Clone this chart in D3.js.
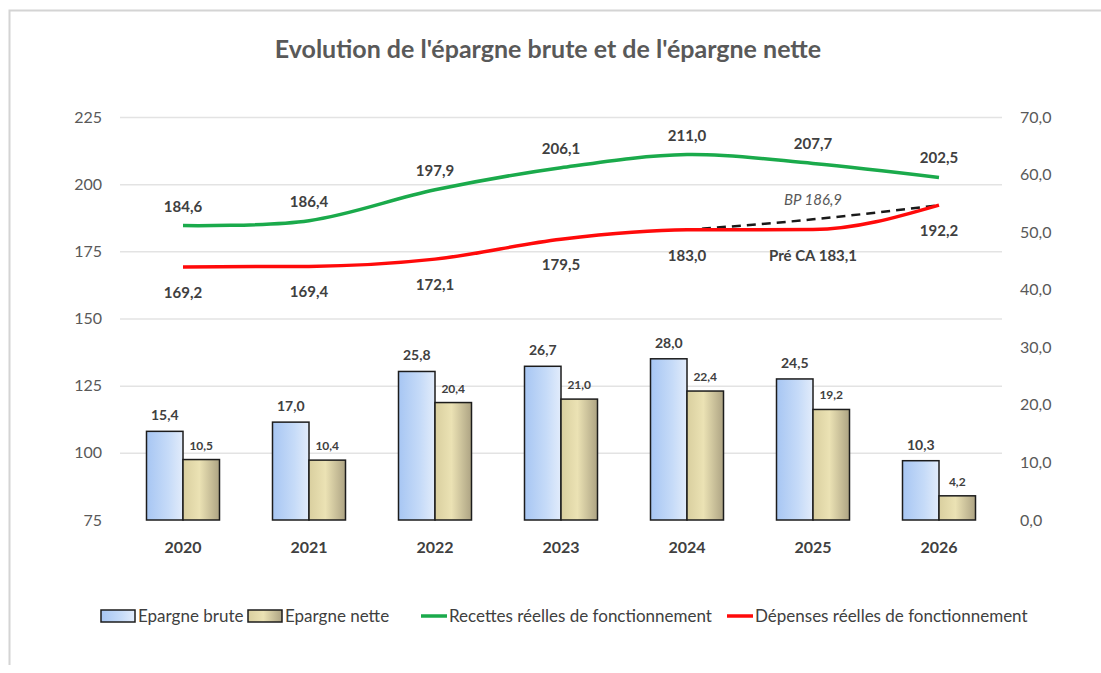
<!DOCTYPE html>
<html>
<head>
<meta charset="utf-8">
<script src="https://cdn.jsdelivr.net/npm/d3@7"></script>
<style>
  body { margin: 0; background: #fff; }
  text { font-family: Lato, "Liberation Sans", sans-serif; }
</style>
</head>
<body>
<div id="chart"></div>
<script>
const years = ["2020", "2021", "2022", "2023", "2024", "2025", "2026"];
const epargneBrute = [15.4, 17.0, 25.8, 26.7, 28.0, 24.5, 10.3];
const epargneNette = [10.5, 10.4, 20.4, 21.0, 22.4, 19.2, 4.2];
const recettes = [184.6, 186.4, 197.9, 206.1, 211.0, 207.7, 202.5];
const depenses = [169.2, 169.4, 172.1, 179.5, 183.0, 183.1, 192.2];
const bpYears = ["2024", "2025", "2026"];
const bpValues = [183.0, 186.9, 192.2];
const leftTicks = [75, 100, 125, 150, 175, 200, 225];
const rightTicks = [0, 10, 20, 30, 40, 50, 60, 70];

const fmt = (v) => v.toFixed(1).replace(".", ",");

const width = 1101;
const height = 673;
const margin = { top: 117, right: 99, bottom: 153, left: 120 };

const svg = d3
  .select("#chart")
  .append("svg")
  .attr("width", width)
  .attr("height", height);

// outer frame
svg
  .append("path")
  .attr("d", `M1101,10.5 H9.5 V665`)
  .attr("fill", "none")
  .attr("stroke", "#d4d4d4")
  .attr("stroke-width", 2);

const defs = svg.append("defs");
const gBlue = defs.append("linearGradient").attr("id", "gBlue");
gBlue.append("stop").attr("offset", "0%").attr("stop-color", "#a7c6f3");
gBlue.append("stop").attr("offset", "60%").attr("stop-color", "#c6dbf8");
gBlue.append("stop").attr("offset", "100%").attr("stop-color", "#e2ecfb");
const gTan = defs.append("linearGradient").attr("id", "gTan");
gTan.append("stop").attr("offset", "0%").attr("stop-color", "#d9cf9f");
gTan.append("stop").attr("offset", "45%").attr("stop-color", "#ebe2b4");
gTan.append("stop").attr("offset", "100%").attr("stop-color", "#ada383");

const x = d3
  .scaleBand()
  .domain(years)
  .range([margin.left, width - margin.right])
  .padding(0);

const yLeft = d3
  .scaleLinear()
  .domain([75, 225])
  .range([height - margin.bottom, margin.top]);

const yRight = d3
  .scaleLinear()
  .domain([0, 70])
  .range([height - margin.bottom, margin.top]);

// Title
svg
  .append("text")
  .attr("x", 548)
  .attr("y", 58)
  .attr("text-anchor", "middle")
  .style("font-size", "25px")
  .style("font-weight", "bold")
  .style("fill", "#595959")
  .text("Evolution de l'épargne brute et de l'épargne nette");

// gridlines
svg
  .append("g")
  .selectAll("line")
  .data(leftTicks.slice(1))
  .enter()
  .append("line")
  .attr("x1", margin.left)
  .attr("x2", width - margin.right)
  .attr("y1", (d) => yLeft(d) + 0.5)
  .attr("y2", (d) => yLeft(d) + 0.5)
  .attr("stroke", "#e3e3e3")
  .attr("stroke-width", 1.5);

// left axis
const leftAxis = svg
  .append("g")
  .attr("transform", `translate(${margin.left - 18},0)`)
  .call(d3.axisLeft(yLeft).tickValues(leftTicks).tickSize(0).tickPadding(0));
leftAxis.select(".domain").remove();
leftAxis
  .selectAll("text")
  .style("font-size", "16px")
  .style("fill", "#595959")
  .style("font-family", "Lato, sans-serif");

// right axis
const rightAxis = svg
  .append("g")
  .attr("transform", `translate(${width - margin.right + 18},0)`)
  .call(
    d3
      .axisRight(yRight)
      .tickValues(rightTicks)
      .tickSize(0)
      .tickPadding(0)
      .tickFormat(fmt)
  );
rightAxis.select(".domain").remove();
rightAxis
  .selectAll("text")
  .style("font-size", "16px")
  .style("fill", "#595959")
  .style("font-family", "Lato, sans-serif");

// x labels
const xAxis = svg
  .append("g")
  .attr("transform", `translate(0,${height - margin.bottom + 19})`)
  .call(d3.axisBottom(x).tickSize(0).tickPadding(0));
xAxis.select(".domain").remove();
xAxis
  .selectAll("text")
  .attr("dy", "0.9em")
  .style("font-size", "16px")
  .style("font-weight", "bold")
  .style("fill", "#404040")
  .style("font-family", "Lato, sans-serif");

// bars
const barW = 36.5;
const base = yRight(0);

svg
  .append("g")
  .selectAll("rect")
  .data(epargneBrute)
  .enter()
  .append("rect")
  .attr("x", (d, i) => x(years[i]) + x.bandwidth() / 2 - barW)
  .attr("y", (d) => yRight(d))
  .attr("width", barW)
  .attr("height", (d) => base - yRight(d))
  .attr("fill", "url(#gBlue)")
  .attr("stroke", "#1c1c1c")
  .attr("stroke-width", 1.5);

svg
  .append("g")
  .selectAll("rect")
  .data(epargneNette)
  .enter()
  .append("rect")
  .attr("x", (d, i) => x(years[i]) + x.bandwidth() / 2)
  .attr("y", (d) => yRight(d))
  .attr("width", barW)
  .attr("height", (d) => base - yRight(d))
  .attr("fill", "url(#gTan)")
  .attr("stroke", "#1c1c1c")
  .attr("stroke-width", 1.5);

// bar labels
svg
  .append("g")
  .selectAll("text")
  .data(epargneBrute)
  .enter()
  .append("text")
  .attr("x", (d, i) => x(years[i]) + x.bandwidth() / 2 - barW / 2)
  .attr("y", (d) => yRight(d) - 11)
  .attr("text-anchor", "middle")
  .style("font-size", "14px")
  .style("font-weight", "bold")
  .style("fill", "#404040")
  .text(fmt);

svg
  .append("g")
  .selectAll("text")
  .data(epargneNette)
  .enter()
  .append("text")
  .attr("x", (d, i) => x(years[i]) + x.bandwidth() / 2 + barW / 2)
  .attr("y", (d) => yRight(d) - 10)
  .attr("text-anchor", "middle")
  .style("font-size", "12px")
  .style("font-weight", "bold")
  .style("fill", "#404040")
  .text(fmt);

// lines
const cx = (yr) => x(yr) + x.bandwidth() / 2;

const greenLine = d3
  .line()
  .x((d, i) => cx(years[i]))
  .y((d) => yLeft(d))
  .curve(d3.curveCatmullRom.alpha(0.5));

const redLine = d3
  .line()
  .x((d, i) => cx(years[i]))
  .y((d) => yLeft(d))
  .curve(d3.curveMonotoneX);

svg
  .append("path")
  .datum(bpValues)
  .attr(
    "d",
    d3
      .line()
      .x((d, i) => cx(bpYears[i]))
      .y((d) => yLeft(d))
      .curve(d3.curveMonotoneX)
  )
  .attr("fill", "none")
  .attr("stroke", "#1a1a1a")
  .attr("stroke-width", 2.5)
  .attr("stroke-dasharray", "9,6");

svg
  .append("path")
  .datum(recettes)
  .attr("d", greenLine)
  .attr("fill", "none")
  .attr("stroke", "#1aaa4b")
  .attr("stroke-width", 3.5);

svg
  .append("path")
  .datum(depenses)
  .attr("d", redLine)
  .attr("fill", "none")
  .attr("stroke", "#ff0a0a")
  .attr("stroke-width", 3.5);

// line labels
svg
  .append("g")
  .selectAll("text")
  .data(recettes)
  .enter()
  .append("text")
  .attr("x", (d, i) => cx(years[i]))
  .attr("y", (d) => yLeft(d) - 14)
  .attr("text-anchor", "middle")
  .style("font-size", "15px")
  .style("font-weight", "bold")
  .style("fill", "#404040")
  .text(fmt);

svg
  .append("g")
  .selectAll("text")
  .data(depenses)
  .enter()
  .append("text")
  .attr("x", (d, i) => cx(years[i]))
  .attr("y", (d, i) => (i === 6 ? yLeft(d) + 31 : yLeft(d) + 31))
  .attr("text-anchor", "middle")
  .style("font-size", "15px")
  .style("font-weight", "bold")
  .style("fill", "#404040")
  .text((d, i) => (i === 5 ? "Pré CA " + fmt(d) : fmt(d)));

svg
  .append("text")
  .attr("x", cx(bpYears[1]))
  .attr("y", yLeft(bpValues[1]) - 14)
  .attr("text-anchor", "middle")
  .style("font-size", "15px")
  .style("font-style", "italic")
  .style("fill", "#595959")
  .text("BP " + fmt(bpValues[1]));

// legend
const legendY = 616;
const legend = svg.append("g").style("font-size", "17px");

const boxItems = [
  { label: "Epargne brute", fill: "url(#gBlue)", x: 101 },
  { label: "Epargne nette", fill: "url(#gTan)", x: 248 },
];
boxItems.forEach((it) => {
  legend
    .append("rect")
    .attr("x", it.x)
    .attr("y", legendY - 6)
    .attr("width", 34)
    .attr("height", 12)
    .attr("fill", it.fill)
    .attr("stroke", "#1c1c1c")
    .attr("stroke-width", 1.5);
  legend
    .append("text")
    .attr("x", it.x + 37)
    .attr("y", legendY + 6)
    .style("fill", "#404040")
    .text(it.label);
});

const lineItems = [
  { label: "Recettes réelles de fonctionnement", color: "#1aaa4b", x: 421 },
  { label: "Dépenses réelles de fonctionnement", color: "#ff0a0a", x: 727 },
];
lineItems.forEach((it) => {
  legend
    .append("line")
    .attr("x1", it.x)
    .attr("x2", it.x + 26)
    .attr("y1", legendY)
    .attr("y2", legendY)
    .attr("stroke", it.color)
    .attr("stroke-width", 3.5);
  legend
    .append("text")
    .attr("x", it.x + 28)
    .attr("y", legendY + 6)
    .style("fill", "#404040")
    .text(it.label);
});
</script>
</body>
</html>
